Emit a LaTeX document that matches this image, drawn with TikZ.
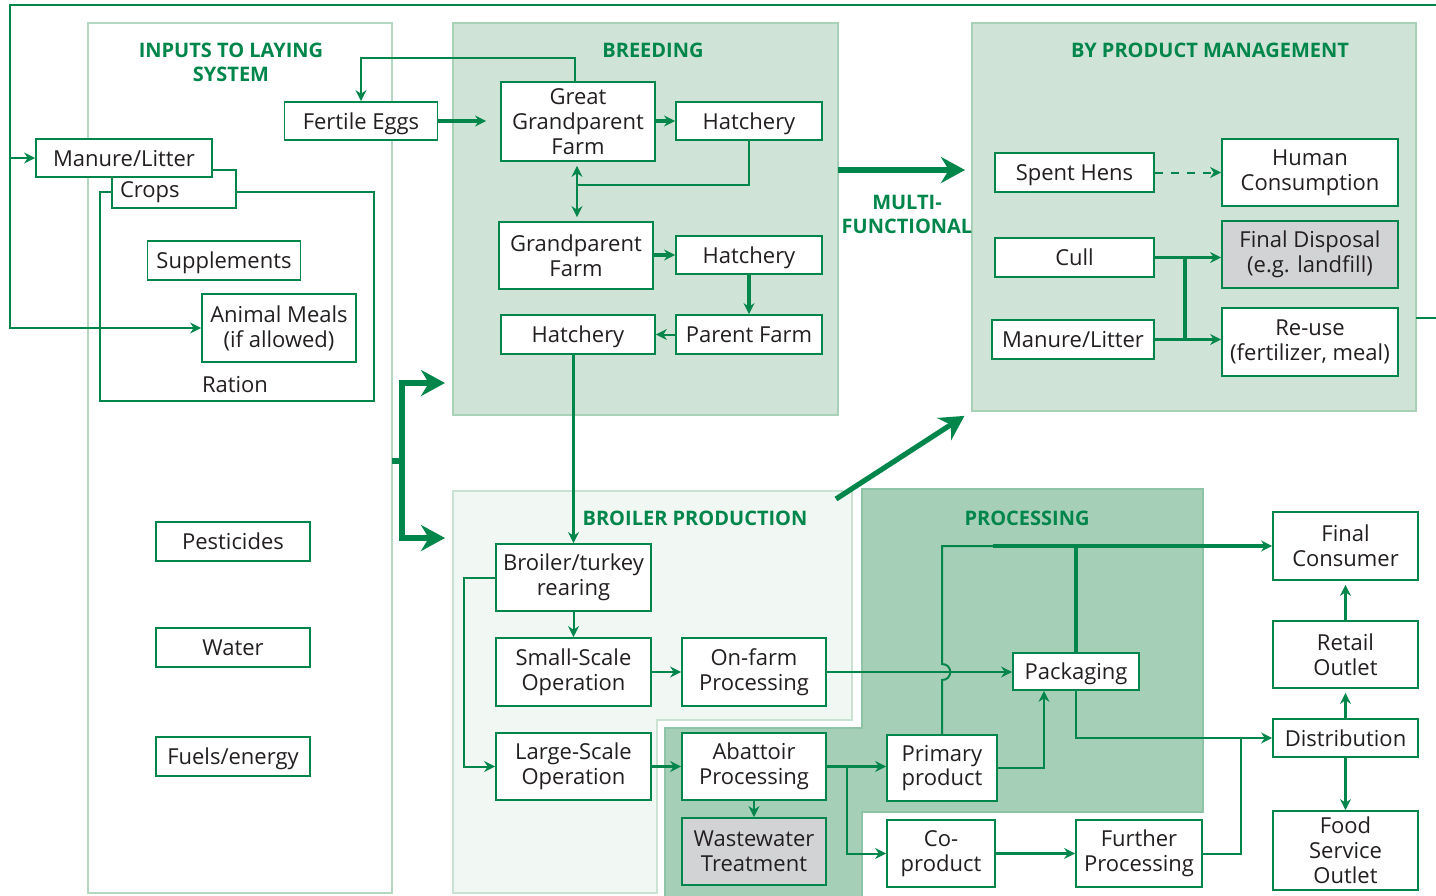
\documentclass[tikz,border=0pt]{standalone}
\usepackage{fontspec}
\setmainfont{Open Sans}
\usetikzlibrary{arrows.meta, calc}

\definecolor{flowgreen}{HTML}{00864A}
\definecolor{breedfill}{HTML}{CFE4D6}
\definecolor{breedline}{HTML}{A9D1B8}
\definecolor{broilfill}{HTML}{F1F7F3}
\definecolor{broilline}{HTML}{C9E2D1}
\definecolor{procfill}{HTML}{A6CFB8}
\definecolor{procline}{HTML}{8EC4A5}
\definecolor{inputline}{HTML}{B3D7C0}
\definecolor{boxgrey}{HTML}{D1D3D4}
\definecolor{inkdark}{HTML}{231F20}

\tikzset{
  box/.style={rectangle, draw=flowgreen, line width=0.9pt, fill=white, text=inkdark,
    align=center, inner sep=1pt, font=\fontsize{11}{12.4}\selectfont},
  one/.style={text height=8.5pt, text depth=0.5pt},
  greybox/.style={box, fill=boxgrey},
  sect/.style={rectangle, line width=0.8pt, inner sep=0pt, outer sep=0pt},
  head/.style={text=flowgreen, align=center, font=\bfseries\fontsize{10}{12}\selectfont},
  plain/.style={text=inkdark, font=\fontsize{11}{12.4}\selectfont},
  flow/.style={draw=flowgreen, line width=1pt},
  thk/.style={draw=flowgreen, line width=1.7pt},
  big/.style={draw=flowgreen, line width=2.6pt},
  bigarrow/.style={big, -{Stealth[length=12pt,width=13pt]}}
}

\begin{document}
\begin{tikzpicture}[x=0.5pt, y=-0.5pt, >={Stealth[length=5.5pt,width=5.5pt]}]
\useasboundingbox (0,0) rectangle (1436,895);

% sections
\node (inputs)   [sect, draw=inputline, minimum width=152pt, minimum height=435pt] at (240,458) {};
\node (breeding) [sect, fill=breedfill, draw=breedline, minimum width=192.5pt, minimum height=196pt] at (645.5,219) {};
\node (bp)       [sect, fill=breedfill, draw=breedline, minimum width=222pt, minimum height=194pt] at (1194,217) {};
\draw[sect, fill=broilfill, draw=broilline] (453,491) -- (852,491) -- (852,720) -- (657,720)
  -- (657,893) -- (453,893) -- cycle;
\draw[sect, fill=procfill, draw=procline] (862,489) -- (1203,489) -- (1203,812) -- (862,812)
  -- (862,897) -- (665,897) -- (665,728) -- (862,728) -- cycle;

\node (hinputs) [head] at (231,62)  {INPUTS TO LAYING\\SYSTEM};
\node (hbreed)  [head] at (653,50)  {BREEDING};
\node (hbp)     [head] at (1210,50) {BY PRODUCT MANAGEMENT};
\node (hbroil)  [head] at (695,518) {BROILER PRODUCTION};
\node (hproc)   [head] at (1027,518) {PROCESSING};
\node (hmulti)  [head] at (907,214) {MULTI-\\FUNCTIONAL};

% inputs
\node (ration) [sect, draw=flowgreen, line width=0.9pt, minimum width=137pt, minimum height=104.5pt] at (237,296.5) {};
\node (rationlbl) [plain] at (235,385) {Ration};
\node (crops) [box, one, minimum width=62pt, minimum height=19pt, text width=54pt, align=left] at (174,189) {Crops};
\node (manin) [box, one, minimum width=88pt, minimum height=19pt] at (124,158) {Manure/Litter};
\node (eggs)  [box, one, minimum width=76.5pt, minimum height=19pt] at (361,121) {Fertile Eggs};
\node (supp)  [box, one, minimum width=76.5pt, minimum height=19.5pt] at (224,260.5) {Supplements};
\node (meal)  [box, minimum width=77pt, minimum height=34pt] at (279,328) {Animal Meals\\(if allowed)};
\node (pest)  [box, one, minimum width=77pt, minimum height=19.5pt] at (233,541.5) {Pesticides};
\node (water) [box, one, minimum width=77pt, minimum height=19.5pt] at (233,647.5) {Water};
\node (fuel)  [box, one, minimum width=77pt, minimum height=19.5pt] at (233,756.5) {Fuels/energy};

% breeding
\node (ggp)    [box, minimum width=77pt, minimum height=39.5pt] at (578,121.5) {Great\\Grandparent\\Farm};
\node (hatch1) [box, one, minimum width=73pt, minimum height=19pt] at (749,121) {Hatchery};
\node (gp)     [box, minimum width=77pt, minimum height=33.5pt] at (576,255.5) {Grandparent\\Farm};
\node (hatch2) [box, one, minimum width=73pt, minimum height=19pt] at (749,255) {Hatchery};
\node (hatch3) [box, one, minimum width=77pt, minimum height=19.5pt] at (578,334.5) {Hatchery};
\node (parent) [box, one, minimum width=73pt, minimum height=19.5pt] at (749,334.5) {Parent Farm};

% by product management
\node (spent)    [box, one, minimum width=79.5pt, minimum height=19.5pt] at (1074.5,172.5) {Spent Hens};
\node (human)    [box, minimum width=88pt, minimum height=33.5pt] at (1310,172.5) {Human\\Consumption};
\node (cull)     [box, one, minimum width=79.5pt, minimum height=19.5pt] at (1074.5,257.5) {Cull};
\node (disposal) [greybox, minimum width=88pt, minimum height=33.5pt] at (1310,254.5) {Final Disposal\\(e.g. landfill)};
\node (manbp)    [box, one, minimum width=81pt, minimum height=19.5pt] at (1073,339.5) {Manure/Litter};
\node (reuse)    [box, minimum width=88pt, minimum height=34pt] at (1310,342) {Re-use\\(fertilizer, meal)};

% broiler production
\node (broiler) [box, minimum width=77.5pt, minimum height=33.5pt] at (573.5,577.5) {Broiler/turkey\\rearing};
\node (small)   [box, minimum width=77.5pt, minimum height=34pt] at (573.5,672) {Small-Scale\\Operation};
\node (onfarm)  [box, minimum width=72pt, minimum height=34pt] at (754,672) {On-farm\\Processing};
\node (large)   [box, minimum width=77.5pt, minimum height=33.5pt] at (573.5,766.5) {Large-Scale\\Operation};

% processing and distribution
\node (abattoir)  [box, minimum width=72pt, minimum height=33.5pt] at (754,766.5) {Abattoir\\Processing};
\node (waste)     [greybox, minimum width=72pt, minimum height=33.5pt] at (754,851.5) {Wastewater\\Treatment};
\node (primary)   [box, minimum width=55pt, minimum height=33pt] at (942,768) {Primary\\product};
\node (packaging) [box, one, minimum width=63pt, minimum height=18.5pt] at (1076,671.5) {Packaging};
\node (coprod)    [box, minimum width=54pt, minimum height=33.5pt] at (941,853.5) {Co-\\product};
\node (further)   [box, minimum width=63pt, minimum height=33.5pt] at (1139,853.5) {Further\\Processing};
\node (final)     [box, minimum width=72.5pt, minimum height=34pt] at (1345.5,546) {Final\\Consumer};
\node (retail)    [box, minimum width=72.5pt, minimum height=33.5pt] at (1345.5,654.5) {Retail\\Outlet};
\node (distrib)   [box, one, minimum width=72.5pt, minimum height=19pt] at (1345.5,738) {Distribution};
\node (foodsvc)   [box, minimum width=72.5pt, minimum height=39.5pt] at (1345.5,850.5) {Food\\Service\\Outlet};

% return loop from by products to the inputs
\coordinate (loopr) at (1444,318);
\coordinate (loopt) at (1444,5);
\coordinate (loopl) at (10,5);
\draw[flow, line width=1.3pt, ->] (bp.east |- loopr) -- (loopr) -- (loopt) -- (loopl) |- (meal.west);
\draw[flow, line width=1.3pt, ->] (loopl |- manin) -- (manin.west);

% big arrows
\coordinate (fork) at (402,461);
\coordinate (breedin) at (445,383);
\coordinate (broilin) at (445,538);
\coordinate (diag) at (836,499);
\draw[big] (inputs.east |- fork) -- (fork);
\draw[bigarrow] (fork) |- (breedin);
\draw[bigarrow] (fork) |- (broilin);
\draw[bigarrow, shorten >=3.5pt] (breeding.east |- 0,170) -- (bp.west |- 0,170);
\draw[bigarrow, shorten >=4.5pt] (diag) -- (bp.south west);

% breeding
\draw[flow, ->] (ggp.north) ++(-3,0) |- (eggs.north |- 0,58) -- (eggs.north);
\draw[thk, ->, shorten >=7pt] (eggs.east) -- (eggs.east -| ggp.west);
\draw[thk, ->] (ggp.east |- hatch1) -- (hatch1.west);
\coordinate (j1) at (577,185);
\draw[flow, <->, shorten <=2pt, shorten >=2pt] (j1 |- ggp.south) -- (j1 |- gp.north);
\draw[flow] (hatch1.south) |- (j1);
\draw[thk, ->] (gp.east |- hatch2) -- (hatch2.west);
\draw[thk, ->] (hatch2) -- (parent);
\draw[flow, ->] (parent) -- (hatch3);
\draw[thk, ->] (broiler.north |- hatch3.south) -- (broiler.north);

% by product management
\draw[flow, dash pattern=on 4pt off 4pt, ->] (spent.east) -- (spent.east -| human.west);
\draw[thk, ->] (cull.east) -- (cull.east -| disposal.west);
\draw[thk, ->] (manbp.east) -- (manbp.east -| reuse.west);
\coordinate (cj) at (1185,257.5);
\draw[thk] (cj) -- (cj |- manbp);

% broiler production
\draw[flow, ->] (broiler) -- (small);
\draw[flow, ->] (broiler.west) -- ++(-31,0) |- (large.west);
\draw[flow, ->] (small) -- (onfarm);
\draw[thk, ->] (large) -- (abattoir);

% processing
\draw[thk, ->] (abattoir.east) -- (abattoir.east -| primary.west);
\draw[flow, ->] (abattoir.east) ++(20,0) |- (coprod.west);
\draw[flow, ->] (abattoir) -- (waste);
\draw[flow, ->] (onfarm.east) -- (onfarm.east -| packaging.west);
\coordinate (fcj) at (993,546);
\draw[flow] (primary.north) -- (942,680) .. controls (953,680) and (953,664) .. (942,664) |- (fcj);
\draw[thk, ->] (fcj) -- (fcj -| final.west);
\draw[thk] (packaging.north) -- (packaging.north |- fcj);
\draw[flow, ->] (primary.east) -| ($(packaging.south)+(-32,0)$);
\draw[flow, ->] (packaging.south) |- (distrib.west);
\draw[flow] (further.east) -| ($(distrib.west)+(-31,0)$);
\draw[thk, ->] (coprod) -- (further);

% distribution
\draw[thk, ->, shorten >=2pt] (retail) -- (final);
\draw[thk, ->, shorten >=2pt] (distrib) -- (retail);
\draw[thk, ->] (distrib) -- (foodsvc);
\end{tikzpicture}
\end{document}
